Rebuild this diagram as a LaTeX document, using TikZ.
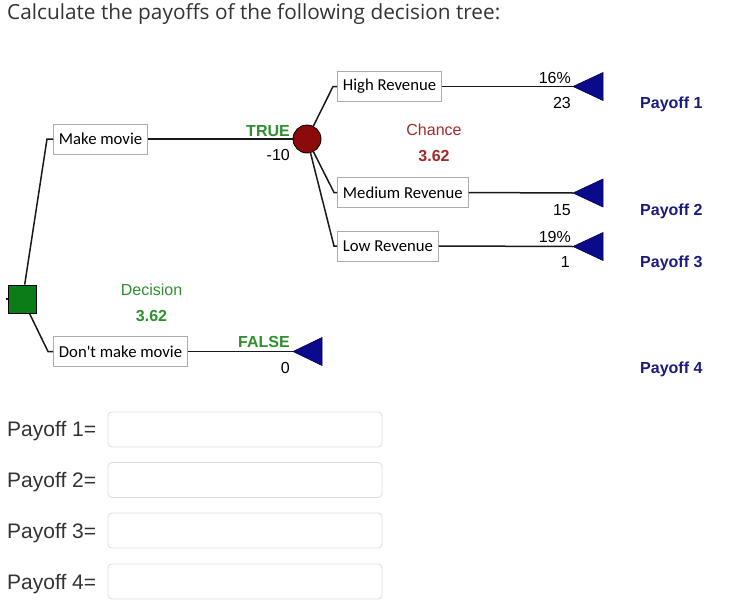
\documentclass[tikz,border=0pt]{standalone}
\usepackage{fontspec}
\setmainfont{Liberation Sans}
\newfontfamily\carl{Carlito}
\newfontfamily\opens{Open Sans}
\definecolor{sqgreen}{HTML}{0B7D16}
\definecolor{txgreen}{HTML}{2F8F2F}
\definecolor{circred}{HTML}{8B0A0A}
\definecolor{txred}{HTML}{A32A2A}
\definecolor{navytri}{HTML}{0A0A8C}
\definecolor{navytx}{HTML}{1A1A80}
\definecolor{formtx}{HTML}{333333}
\begin{document}
\begin{tikzpicture}[x=1pt,y=-1pt,
  lbl/.style={inner sep=0pt, font=\fontsize{16}{19}\selectfont},
  boldlbl/.style={lbl, font=\bfseries\fontsize{16}{19}\selectfont},
  boxlbl/.style={draw=gray!65, line width=0.9pt, fill=white, inner xsep=5.5pt, inner ysep=0pt,
    minimum height=30pt, anchor=west, font=\carl\fontsize{16.7}{19}\selectfont},
  branch/.style={line width=1.5pt, black!90},
  leafstyle/.style={fill=navytri, draw=navytri!60!black, line width=0.6pt},
  formbox/.style={draw=gray!25, line width=0.9pt, rounded corners=4pt, minimum width=274pt,
    minimum height=35pt, inner sep=0pt},
  formlbl/.style={inner sep=0pt, anchor=base west, text=formtx, font=\fontsize{21}{25}\selectfont}
]
\useasboundingbox (0,0) rectangle (745,608);

% title
\node[inner sep=0pt, anchor=base west, text=formtx, font=\opens\fontsize{20.8}{24}\selectfont] (title) at (7,19)
  {Calculate the payoffs of the following decision tree:};

% decision node
\node[draw=black, line width=0.8pt, fill=sqgreen, minimum size=28pt, inner sep=0pt] (dec) at (22.5,299) {};
\coordinate (din) at (6,299);
\draw[branch] (din) -- (dec);

% first-level branches
\node[boxlbl] (mm) at (53,139) {Make movie};
\node[boxlbl] (dm) at (53,351.5) {Don't make movie};
\coordinate (mmE) at (47,139);
\coordinate (dmE) at (48,351.5);
\draw[branch] (dec) -- (mmE) -- (mm.west);
\draw[branch] (dec) -- (dmE) -- (dm.west);

% chance node
\node[circle, draw=black, line width=0.8pt, fill=circred, minimum size=28pt, inner sep=0pt] (ch) at (307,139) {};
\draw[branch] (mm.east) -- (ch);

\node[boldlbl, text=txgreen, anchor=base east] (tru) at (290,136) {TRUE};
\node[lbl, text=black, anchor=base east] (v10) at (290,160) {-10};
\node[lbl, text=txgreen] (decl) at (151.5,289.5) {Decision};
\node[boldlbl, text=txgreen] (decv) at (151.5,316) {3.62};

% false leaf
\coordinate (t4) at (293,351.5);
\draw[branch] (dm.east) -- (t4);
\filldraw[leafstyle] (t4) -- ++(29,-14) -- ++(0,28) -- cycle;
\node[boldlbl, text=txgreen, anchor=base east] (fal) at (290,347) {FALSE};
\node[lbl, anchor=base east] (v0) at (290,373) {0};

% chance branches
\node[boxlbl] (hr) at (337,86.5) {High Revenue};
\node[boxlbl] (mr) at (337,192.5) {Medium Revenue};
\node[boxlbl] (lr) at (337,246) {Low Revenue};
\coordinate (hrE) at (333,86.5);
\coordinate (mrE) at (334,192.5);
\coordinate (lrE) at (334,246);
\draw[branch] (ch) -- (hrE) -- (hr.west);
\draw[branch] (ch) -- (mrE) -- (mr.west);
\draw[branch] (ch) -- (lrE) -- (lr.west);

\node[lbl, text=txred] (chl) at (434,129.5) {Chance};
\node[boldlbl, text=txred] (chv) at (434,156) {3.62};

% leaves
\coordinate (t1) at (573,86.5);
\coordinate (t2) at (573,193);
\coordinate (t3) at (573,246.5);
\draw[branch] (hr.east) -- (t1);
\draw[branch] (mr.east) -- (t2);
\draw[branch] (lr.east) -- (t3);
\foreach \t in {t1,t2,t3}{
  \filldraw[leafstyle] (\t) -- ++(30,-14) -- ++(0,28) -- cycle;
}

\node[lbl, anchor=base east] (p16) at (571,83) {16\%};
\node[lbl, anchor=base east] (v23) at (571,108) {23};
\node[lbl, anchor=base east] (v15) at (571,215) {15};
\node[lbl, anchor=base east] (p19) at (571,242) {19\%};
\node[lbl, anchor=base east] (v1) at (570,267) {1};

\node[boldlbl, text=navytx, anchor=base west] (pay1) at (640,108) {Payoff 1};
\node[boldlbl, text=navytx, anchor=base west] (pay2) at (640,215) {Payoff 2};
\node[boldlbl, text=navytx, anchor=base west] (pay3) at (640,267) {Payoff 3};
\node[boldlbl, text=navytx, anchor=base west] (pay4) at (640,373) {Payoff 4};

% form
\node[formlbl] (f1l) at (7,436) {Payoff 1=};
\node[formlbl] (f2l) at (7,487) {Payoff 2=};
\node[formlbl] (f3l) at (7,538) {Payoff 3=};
\node[formlbl] (f4l) at (7,589) {Payoff 4=};
\node[formbox] (f1) at (245,429.5) {};
\node[formbox] (f2) at (245,480) {};
\node[formbox] (f3) at (245,530.5) {};
\node[formbox] (f4) at (245,581.5) {};
\end{tikzpicture}
\end{document}
